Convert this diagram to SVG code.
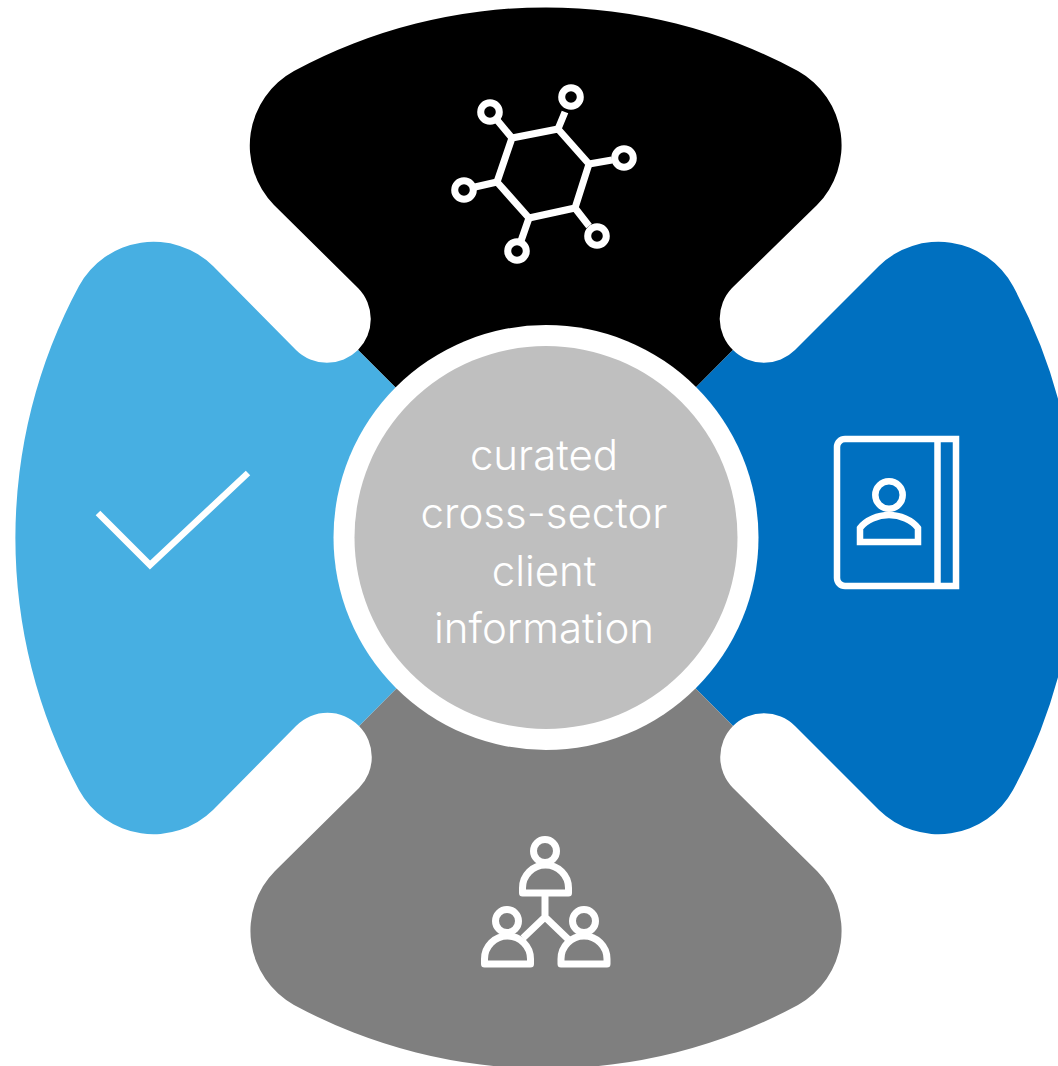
<svg xmlns="http://www.w3.org/2000/svg" width="1058" height="1066" viewBox="0 0 1058 1066">
<style>
.ico{fill:none;stroke:#fff;stroke-width:6.5;stroke-linejoin:round}
.lbl{font-family:"Inter","Liberation Sans",sans-serif;font-weight:300;font-size:42px;fill:#fff;text-anchor:middle}
</style>
<rect width="1058" height="1066" fill="#fff"/>
<g id="connectors"/>
<g id="node-top">
<path fill="#000" d="M294 71A531 531 0 0 1 798 71A85 85 0 0 1 817 205L732 288A44 44 0 0 0 733 350L546 538L358 350A44 44 0 0 0 358 288L274 205A85 85 0 0 1 294 71Z"/>
<g class="ico" style="stroke-width:7">
<path d="M512 138L558 129L589 164L575 208L529 218L497 182Z"/>
<path d="M512 138L497 120M558 129L565 112M589 164L612 160M575 208L589 226M529 218L521 241M497 182L475 187"/>
<circle cx="490" cy="112" r="9.3"/><circle cx="571" cy="97" r="9.3"/><circle cx="624" cy="158" r="9.3"/><circle cx="597" cy="236" r="9.3"/><circle cx="517" cy="251" r="9.3"/><circle cx="464" cy="190" r="9.3"/>
</g>
</g>
<g id="node-right">
<path fill="#0070C0" d="M1013 286A531 531 0 0 1 1013 790A85 85 0 0 1 879 810L795 726A44 44 0 0 0 733 726L546 538L733 350A44 44 0 0 0 795 350L879 266A85 85 0 0 1 1013 286Z"/>
<g class="ico" style="stroke-linejoin:miter">
<path d="M956 439H845A8 8 0 0 0 837 447V578A8 8 0 0 0 845 586H956ZM937.5 439V586"/>
<circle cx="889" cy="495" r="13.7"/>
<path d="M860 542V528C866 520 878 515 889 515C900 515 912 520 918 528V542Z"/>
</g>
</g>
<g id="node-bottom">
<path fill="#7F7F7F" d="M798 1005A531 531 0 0 1 294 1005A85 85 0 0 1 275 871L359 788A44 44 0 0 0 359 726L546 538L733 726A44 44 0 0 0 733 788L817 871A85 85 0 0 1 798 1005Z"/>
<g class="ico" style="stroke-width:7">
<circle cx="545" cy="851" r="11.5"/>
<path d="M522.5 893V888A23 23 0 0 1 568.5 888V893Z"/>
<circle cx="507" cy="921" r="11.5"/>
<path d="M484.5 964V959A23 23 0 0 1 530.5 959V964Z"/>
<circle cx="584" cy="921" r="11.5"/>
<path d="M561 964V959A23 23 0 0 1 607 959V964Z"/>
<path d="M545 896V917M523 938L545 917L569 940"/>
</g>
</g>
<g id="node-left">
<path fill="#47AFE2" d="M79 286A85 85 0 0 1 213 266L296 350A44 44 0 0 0 358 350L546 538L359 726A44 44 0 0 0 296 726L213 810A85 85 0 0 1 79 790A531 531 0 0 1 79 286Z"/>
<path class="ico" style="stroke-linejoin:miter" d="M98 513L150 565L248 473"/>
</g>
<g id="node-center">
<circle cx="546" cy="537.5" r="212.5" fill="#fff"/>
<circle cx="546" cy="537.5" r="191.5" fill="#BFBFBF"/>
<text class="lbl" x="544" y="470">curated</text>
<text class="lbl" x="544" y="528">cross-sector</text>
<text class="lbl" x="544" y="586">client</text>
<text class="lbl" x="544" y="643">information</text>
</g>
</svg>
